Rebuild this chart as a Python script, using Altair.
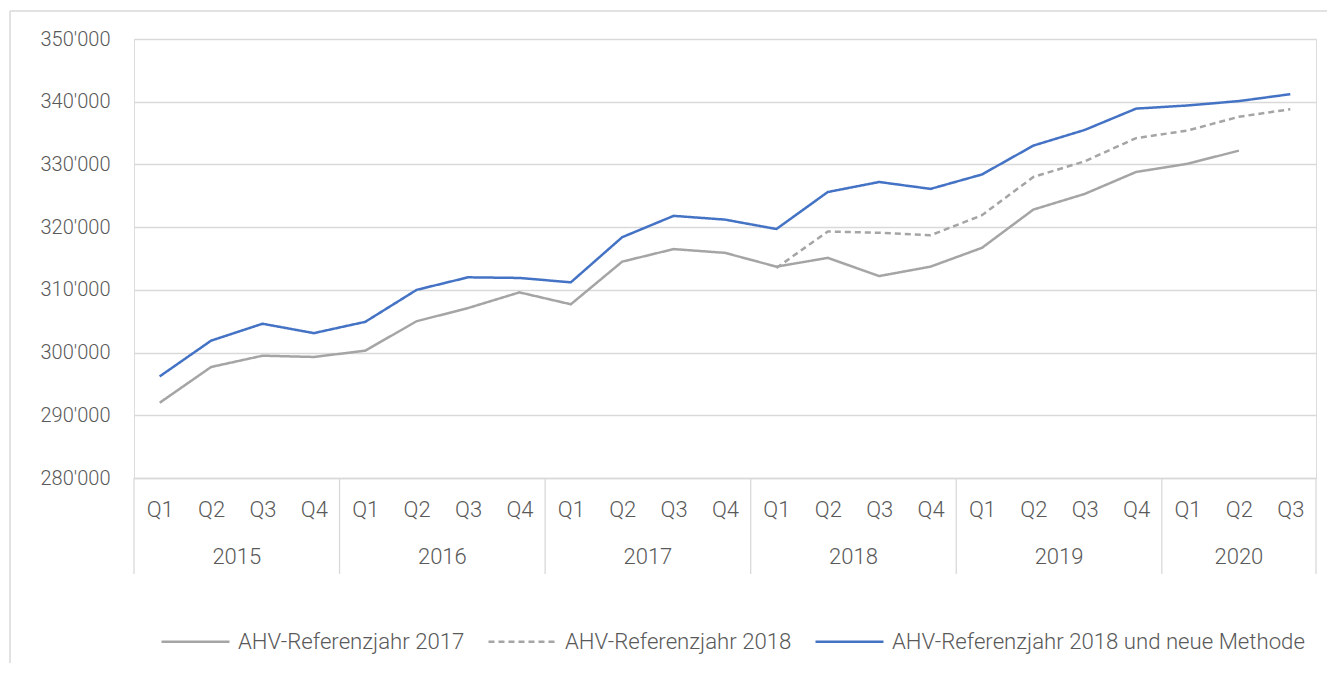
import altair as alt
import pandas as pd

quarters = ["Q1", "Q2", "Q3", "Q4"] * 5 + ["Q1", "Q2", "Q3"]
years = ["2015", "2016", "2017", "2018", "2019", "2020"]
year_centers = [1.5, 5.5, 9.5, 13.5, 17.5, 21.0]
separators = [-0.5, 3.5, 7.5, 11.5, 15.5, 19.5, 22.5]

series_names = [
    "AHV-Referenzjahr 2017",
    "AHV-Referenzjahr 2018",
    "AHV-Referenzjahr 2018 und neue Methode",
]

ref2017 = [292000, 297700, 299500, 299300, 300300, 305000, 307100, 309600,
           307700, 314500, 316500, 315900, 313700, 315100, 312200, 313700,
           316700, 322800, 325300, 328800, 330100, 332200, None]
ref2018 = [None] * 12 + [313500, 319300, 319100, 318700, 321900, 328000,
                         330500, 334200, 335400, 337600, 338800]
ref2018neu = [296200, 301900, 304600, 303100, 304900, 310000, 312000, 311900,
              311200, 318400, 321800, 321200, 319700, 325600, 327200, 326100,
              328400, 333000, 335500, 338900, 339400, 340100, 341200]

rows = []
for name, vals in zip(series_names, [ref2017, ref2018, ref2018neu]):
    for i, v in enumerate(vals):
        if v is not None:
            rows.append({"idx": i, "series": name, "value": v})
df = pd.DataFrame(rows)

FONT = "Roboto"
TXT = "#595959"
GRID = "#d9d9d9"
FW = 300
W, H = 1182, 439

label_expr = "[" + ",".join(f"'{q}'" for q in quarters) + "][datum.value]"

xscale = alt.Scale(domain=[-0.5, 22.5], nice=False, zero=False)

legend = alt.Legend(
    title=None, orient="none", direction="horizontal",
    legendX=26, legendY=567,
    symbolType="stroke", symbolSize=4624, symbolStrokeWidth=2.5,
    labelFontSize=22.2, labelFontWeight=FW, labelColor=TXT, labelFont=FONT,
    labelLimit=600, labelOffset=7, columnPadding=18,
)

lines = alt.Chart(df).mark_line(strokeWidth=2.5).encode(
    x=alt.X("idx:Q", scale=xscale, axis=alt.Axis(
        title=None, values=list(range(len(quarters))), labelExpr=label_expr,
        grid=False, ticks=False, tickSize=0, labelPadding=21, labelFontSize=22,
        labelFontWeight=FW, labelColor=TXT, labelFont=FONT, labelFlush=False,
        labelOverlap=False, labelBound=False, domainColor=GRID, domainWidth=1.3)),
    y=alt.Y("value:Q", scale=alt.Scale(domain=[280000, 350000], nice=False, zero=False),
            axis=alt.Axis(title=None, values=list(range(280000, 350001, 10000)),
                          labelExpr="replace(format(datum.value, ','), ',', \"'\")",
                          domain=False, ticks=False, labelPadding=24, labelFontSize=20,
                          labelFontWeight=FW, labelColor=TXT, labelFont=FONT,
                          gridColor=GRID, gridWidth=1.3)),
    color=alt.Color("series:N", scale=alt.Scale(domain=series_names,
                    range=["#a5a5a5", "#a5a5a5", "#4472c4"]), legend=legend),
    strokeDash=alt.StrokeDash("series:N", scale=alt.Scale(domain=series_names,
                              range=[[1, 0], [6, 4], [1, 0]]), legend=legend),
    order=alt.Order("idx:Q"),
)

sep_df = pd.DataFrame({"pos": separators})
seps = alt.Chart(sep_df).mark_rule(color=GRID, strokeWidth=1.3).encode(
    x=alt.X("pos:Q", scale=xscale),
    y=alt.value(H), y2=alt.value(H + 96),
)

year_df = pd.DataFrame({"pos": year_centers, "year": years})
year_text = alt.Chart(year_df).mark_text(
    fontSize=22, fontWeight=FW, font=FONT, color=TXT, baseline="middle", align="center"
).encode(x=alt.X("pos:Q", scale=xscale), y=alt.value(518), text="year:N")

one = pd.DataFrame({"a": [0]})
border_top = alt.Chart(one).mark_rule(color=GRID, strokeWidth=1.5).encode(
    x=alt.value(-124), x2=alt.value(W + 20), y=alt.value(-28))
border_left = alt.Chart(one).mark_rule(color=GRID, strokeWidth=1.5).encode(
    x=alt.value(-124), y=alt.value(-28), y2=alt.value(H + 200))

chart = alt.layer(border_top, border_left, seps, year_text, lines).properties(
    width=W, height=H,
    autosize=alt.AutoSizeParams(type="none"),
    padding={"left": 126, "top": 31, "right": 11, "bottom": 185},
    background="white",
).configure_view(stroke=None).configure(font=FONT)

chart.save("out.html", embed_options={"renderer": "svg", "actions": False})
